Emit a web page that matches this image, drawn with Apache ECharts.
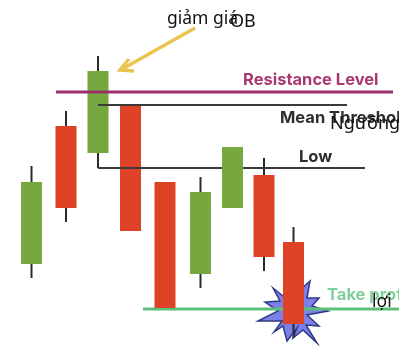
<!DOCTYPE html>
<html>
<head>
<meta charset="utf-8">
<style>
  html, body { margin: 0; padding: 0; background: #fff; }
  #chart { width: 399px; height: 346px; }
</style>
<script src="https://cdn.jsdelivr.net/npm/echarts@6/dist/echarts.min.js"></script>
</head>
<body>
<div id="chart"></div>
<script>
// ===== Data (price scale runs bottom-up, 0 to 346) =====
const candleX = [31.5, 66, 98, 130.5, 165, 200.5, 232.5, 264, 293.5];
const opens   = [82, 220, 193, 241, 164, 72, 138, 171, 104];
const closes  = [164, 138, 275, 115, 38, 154, 199, 89, 22];
const lows    = [68, 124, 178, 115, 38, 58, 138, 75, 8];
const highs   = [180, 235, 290, 241, 164, 169, 199, 188, 119];

const levelNames  = ['Resistance Level', 'Mean Threshold', 'Low', 'Take profit'];
const levelValues = [254, 241, 178, 37];
const levelStart  = [56, 98, 98, 143];
const levelEnd    = [393, 347, 365, 399];
const labelX      = [243, 280, 299, 327];
const labelValues = [266, 228, 189, 51];

const noteTexts  = ['giảm giá', 'OB', 'Ngưỡng', 'lợi'];
const noteX      = [167, 230, 330, 372];
const noteValues = [327, 324, 222, 44];

const arrowShaft = [[195, 318], [124, 278]];
const arrowHead  = [[129, 287], [120, 276], [134, 275]];

const starOutline = [
  [273, 58], [283, 50], [300, 56], [310, 65], [307, 48], [319, 48], [312, 40],
  [328, 35], [307, 31], [319, 20], [306, 21], [317, 3], [303, 16], [293, 8], [297, 18],
  [287, 5], [283, 20], [274, 14], [282, 25], [258, 25], [278, 35], [265, 44], [280, 45]
];

const GREEN = '#76a83f', RED = '#de4328', WICK = '#2b2b2b';
const BODY_WIDTH = 21;

// ===== Series builders =====
function candleSeries(indices, z) {
  return {
    type: 'custom',
    z,
    silent: true,
    clip: false,
    data: candleX.map((x, i) => [x, opens[i], closes[i], lows[i], highs[i]]),
    renderItem(params, api) {
      if (!indices.includes(params.dataIndex)) return null;
      const x = api.value(0), o = api.value(1), c = api.value(2);
      const top = api.coord([x, Math.max(o, c)]);
      const bottom = api.coord([x, Math.min(o, c)]);
      const hi = api.coord([x, api.value(4)]);
      const lo = api.coord([x, api.value(3)]);
      const wick = (a, b) => ({
        type: 'line',
        shape: { x1: a[0], y1: a[1], x2: b[0], y2: b[1] },
        style: { stroke: WICK, lineWidth: 2 }
      });
      return {
        type: 'group',
        children: [
          wick(hi, top),
          wick(bottom, lo),
          {
            type: 'rect',
            shape: { x: top[0] - BODY_WIDTH / 2, y: top[1], width: BODY_WIDTH, height: bottom[1] - top[1] },
            style: { fill: c > o ? GREEN : RED }
          }
        ]
      };
    }
  };
}

function levelSeries(i, color, width, z) {
  return {
    type: 'line',
    name: levelNames[i],
    z,
    silent: true,
    symbol: 'none',
    animation: false,
    lineStyle: { color, width },
    data: [[levelStart[i], levelValues[i]], [levelEnd[i], levelValues[i]]]
  };
}

function textSeries(rows, z) {
  return {
    type: 'custom',
    z,
    silent: true,
    clip: false,
    data: rows.map((r, i) => [r.x, r.y, i]),
    renderItem(params, api) {
      const r = rows[params.dataIndex];
      const p = api.coord([api.value(0), api.value(1)]);
      return {
        type: 'text',
        x: p[0],
        y: p[1],
        style: {
          text: r.text,
          fill: r.color,
          font: r.font,
          textAlign: 'left',
          textVerticalAlign: 'middle'
        }
      };
    }
  };
}

function starSeries(z) {
  return {
    type: 'custom',
    z,
    silent: true,
    clip: false,
    data: [0],
    renderItem(params, api) {
      return {
        type: 'polygon',
        shape: { points: starOutline.map(p => api.coord(p)) },
        style: { fill: '#7c80e6', stroke: '#2f3a86', lineWidth: 1.5 }
      };
    }
  };
}

function arrowSeries(z) {
  return {
    type: 'custom',
    z,
    silent: true,
    clip: false,
    data: [0],
    renderItem(params, api) {
      const style = { stroke: '#e9c44f', lineWidth: 3.5, fill: 'none' };
      return {
        type: 'group',
        children: [
          { type: 'polyline', shape: { points: arrowShaft.map(p => api.coord(p)) }, style },
          { type: 'polyline', shape: { points: arrowHead.map(p => api.coord(p)) }, style }
        ]
      };
    }
  };
}

// ===== Chart =====
const labelColors = ['#a8386f', '#2d2d2d', '#2d2d2d', '#7fcf9a'];
const labelRows = levelNames.map((text, i) => ({
  text,
  x: labelX[i],
  y: labelValues[i],
  color: labelColors[i],
  font: '700 16.5px Inter, "DejaVu Sans", sans-serif'
}));
const noteFonts = [17.5, 18, 18, 17.5];
const noteRows = noteTexts.map((text, i) => ({
  text,
  x: noteX[i],
  y: noteValues[i],
  color: '#111',
  font: noteFonts[i] + 'px "Noto Sans", "Open Sans", sans-serif'
}));

const chart = echarts.init(document.getElementById('chart'));
chart.setOption({
  animation: false,
  backgroundColor: '#fff',
  grid: { left: 0, right: 0, top: 0, bottom: 0 },
  xAxis: { type: 'value', min: 0, max: 399, show: false },
  yAxis: { type: 'value', min: 0, max: 346, show: false },
  series: [
    starSeries(1),
    levelSeries(3, '#5cbf7a', 3, 2),
    candleSeries([0, 1, 2, 3, 4, 5, 7, 8], 3),
    levelSeries(0, '#9c2f68', 3, 4),
    levelSeries(1, '#3a3a3a', 2, 4),
    levelSeries(2, '#3a3a3a', 2, 4),
    candleSeries([6], 5),
    arrowSeries(5),
    textSeries(labelRows, 6),
    textSeries(noteRows, 7)
  ]
});
</script>
</body>
</html>
